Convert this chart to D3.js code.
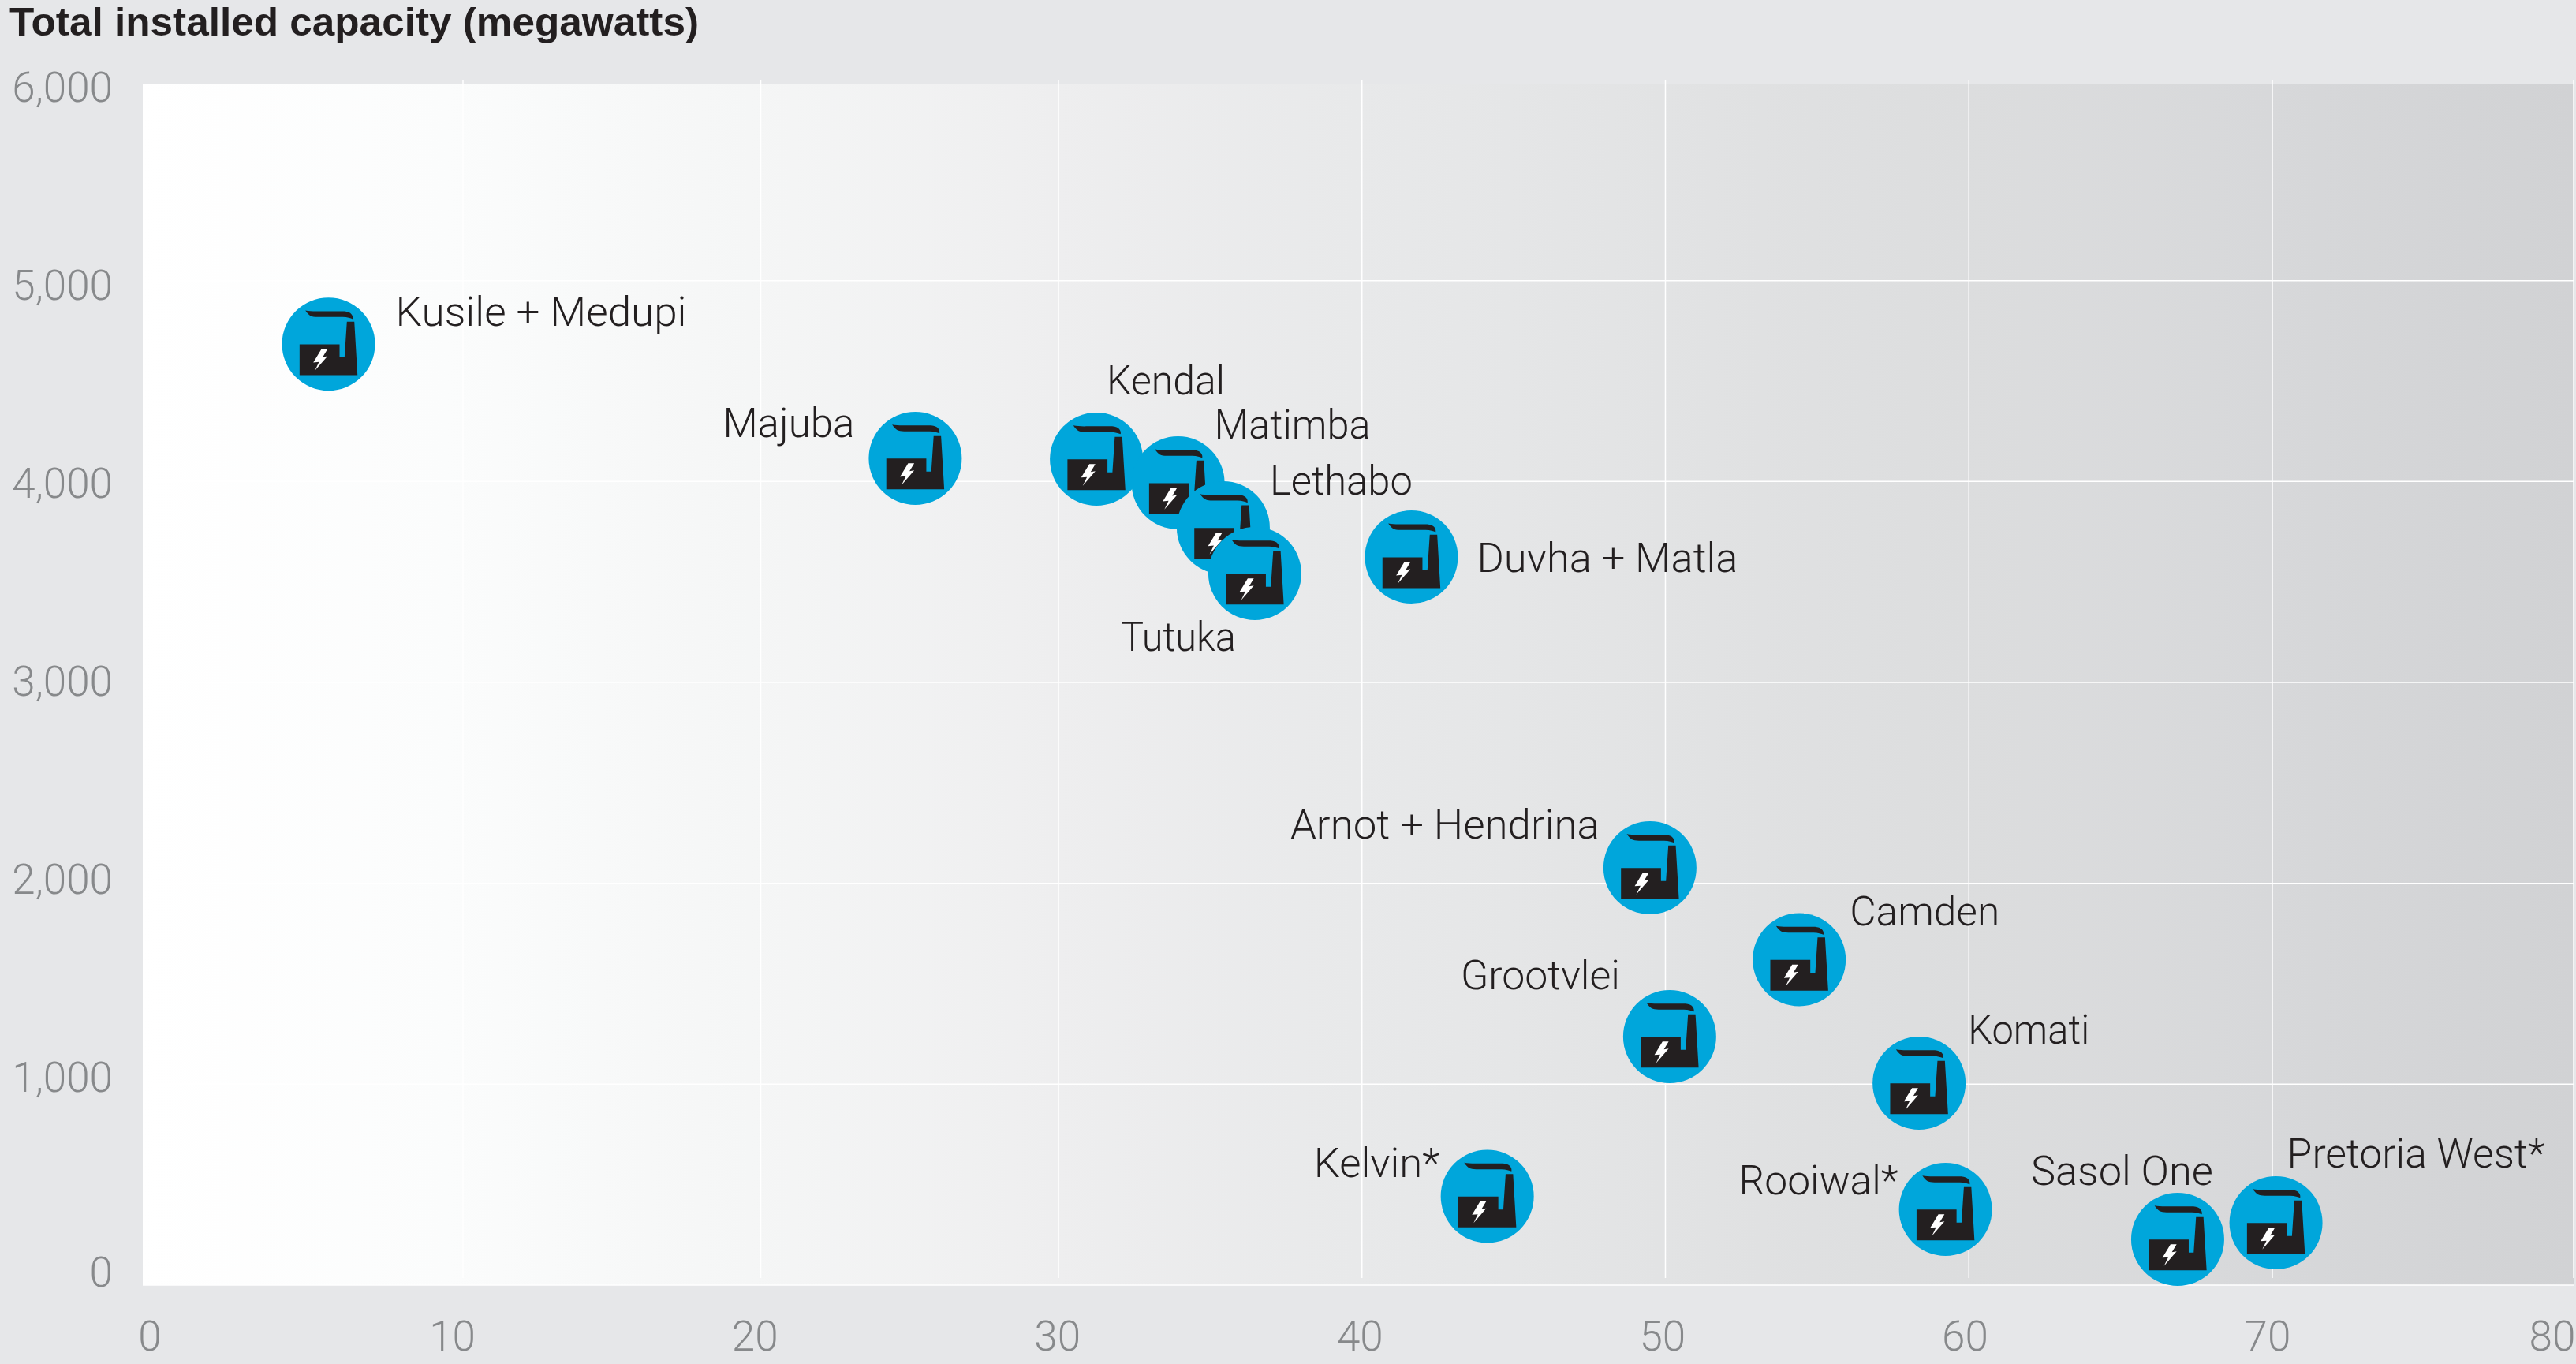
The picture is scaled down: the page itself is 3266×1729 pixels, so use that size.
<!DOCTYPE html>
<html>
<head>
<meta charset="utf-8">
<title>Total installed capacity</title>
<script src="https://cdnjs.cloudflare.com/ajax/libs/d3/7.8.5/d3.min.js"></script>
<style>
  html, body { margin: 0; padding: 0; background: #e6e7e9; overflow: hidden; }
  svg { display: block; }
  text { font-family: Roboto, "Liberation Sans", sans-serif; font-weight: 300; }
</style>
</head>
<body>
<svg id="chart" width="3266" height="1729"></svg>
<script>
// Values
let stations = ["Kusile + Medupi", "Majuba", "Kendal", "Matimba", "Lethabo", "Tutuka", "Duvha + Matla",
  "Arnot + Hendrina", "Camden", "Grootvlei", "Komati", "Kelvin*", "Rooiwal*", "Sasol One", "Pretoria West*"];
let ages = [5.49, 25.19, 31.25, 33.94, 35.43, 36.47, 41.63, 49.49, 54.41, 50.14, 58.36, 44.13, 59.23, 66.88, 70.12];
let capacities = [4684, 4115, 4111, 3993, 3770, 3542, 3624, 2077, 1620, 1237, 1005, 442, 377, 228, 310];
let xTicks = [0, 10, 20, 30, 40, 50, 60, 70, 80];
let yTicks = [0, 1000, 2000, 3000, 4000, 5000, 6000];
let title = "Total installed capacity (megawatts)";

// Label layout: offset from the circle centre [dx, baseline dy] and drawn width
let labelOffsets = [[85, -23], [-244, -27], [13, -82], [46, -56], [59, -42], [-170, 98], [83, 19],
  [-456, -37], [64, -43], [-265, -60], [62, -50], [-220, -24], [-262, -19], [-186, -69], [14, -70]];
let labelWidths = [369, 167, 150, 198, 181, 146, 331, 392, 190, 202, 154, 160, 202, 231, 327];

let svg = d3.select("#chart");
let plot = { left: 181, right: 3263, top: 107, bottom: 1629 };

// The artwork's grid is very slightly uneven, so the scale has a few anchors
let xScale = d3.scaleLinear()
  .domain([0, 10, 30, 70, 80])
  .range([209, 587, 1342, 2881, 3263]);
let yScale = d3.scaleLinear()
  .domain([0, 6000])
  .range([1629, 101]);

// Tick labels sit off the gridlines in the original
let xLabelScale = d3.scaleLinear().domain([0, 70, 80]).range([190, 2875, 3236]);
let yLabelScale = d3.scaleLinear().domain([0, 1000, 6000]).range([1612, 1365, 110]);

// Background gradient
let defs = svg.append("defs");
let gradient = defs.append("linearGradient").attr("id", "plotFade");
let fadeStops = [[0, "#ffffff"], [0.125, "#fbfcfc"], [0.25, "#f5f6f6"], [0.375, "#eeeeef"], [0.5, "#e8e9ea"],
  [0.625, "#e2e3e4"], [0.75, "#dcddde"], [0.875, "#d7d8da"], [1, "#d1d2d4"]];
gradient.selectAll("stop")
  .data(fadeStops)
  .enter()
  .append("stop")
  .attr("offset", d => d[0])
  .attr("stop-color", d => d[1]);

svg.append("rect")
  .attr("x", plot.left)
  .attr("y", plot.top)
  .attr("width", plot.right - plot.left)
  .attr("height", plot.bottom - plot.top)
  .attr("fill", "url(#plotFade)");

// Gridlines
svg.append("g").selectAll("line")
  .data(yTicks.slice(0, -1))
  .enter()
  .append("line")
  .attr("x1", plot.left)
  .attr("x2", plot.right)
  .attr("y1", d => yScale(d))
  .attr("y2", d => yScale(d))
  .attr("stroke", "#ffffff")
  .attr("stroke-width", 1.5);

svg.append("g").selectAll("line")
  .data(xTicks.slice(1))
  .enter()
  .append("line")
  .attr("x1", d => xScale(d))
  .attr("x2", d => xScale(d))
  .attr("y1", 102)
  .attr("y2", 1620)
  .attr("stroke", "#ffffff")
  .attr("stroke-width", 1.5);

// Axis labels
svg.append("g").selectAll("text")
  .data(yTicks)
  .enter()
  .append("text")
  .attr("x", 143)
  .attr("y", d => yLabelScale(d))
  .attr("dy", "0.36em")
  .attr("text-anchor", "end")
  .attr("font-size", 53)
  .attr("fill", "#87898b")
  .text(d3.format(","));

svg.append("g").selectAll("text")
  .data(xTicks)
  .enter()
  .append("text")
  .attr("x", d => xLabelScale(d))
  .attr("y", 1712)
  .attr("text-anchor", "middle")
  .attr("font-size", 53)
  .attr("fill", "#87898b")
  .text(d => d);

svg.append("text")
  .attr("x", 12)
  .attr("y", 45)
  .attr("font-size", 50)
  .attr("fill", "#231f20")
  .attr("textLength", 874)
  .attr("lengthAdjust", "spacingAndGlyphs")
  .style("font-family", "'Liberation Sans', sans-serif")
  .style("font-weight", 700)
  .text(title);

// Power station markers
let smokePath = "M-29.3,-42.7C-25,-36 -22,-34.5 -14,-34.3L18,-34.3C24,-34 28,-33 30.7,-31.7" +
  "C31.5,-36 29,-41 20,-41.7L-10,-41.7C-18,-41.7 -24,-41.5 -29.3,-42.7Z";
let factoryPath = "M-36.7,0.3L14,0.3L14,16.7L20.3,16.7L23.3,-28.3L32.7,-28.3L36.7,39.3L-36.7,39.3Z";
let boltPath = "M-9,6.3L-1.3,6.3L-7.3,16.3L-1.3,15.3L-17.3,33.7L-12,22.7L-19.3,23.3Z";

let markers = svg.append("g").selectAll("g")
  .data(stations)
  .enter()
  .append("g")
  .attr("transform", (d, i) => "translate(" + xScale(ages[i]) + "," + yScale(capacities[i]) + ")");

markers.append("circle").attr("r", 59).attr("fill", "#00a6db");
markers.append("path").attr("d", smokePath).attr("fill", "#231f20");
markers.append("path").attr("d", factoryPath).attr("fill", "#231f20");
markers.append("path").attr("d", boltPath).attr("fill", "#ffffff");

// Station names go on top of every marker
svg.append("g").selectAll("text")
  .data(stations)
  .enter()
  .append("text")
  .attr("x", (d, i) => xScale(ages[i]) + labelOffsets[i][0])
  .attr("y", (d, i) => yScale(capacities[i]) + labelOffsets[i][1])
  .attr("font-size", 52)
  .attr("fill", "#231f20")
  .attr("textLength", (d, i) => labelWidths[i])
  .attr("lengthAdjust", "spacingAndGlyphs")
  .text(d => d);
</script>
</body>
</html>
